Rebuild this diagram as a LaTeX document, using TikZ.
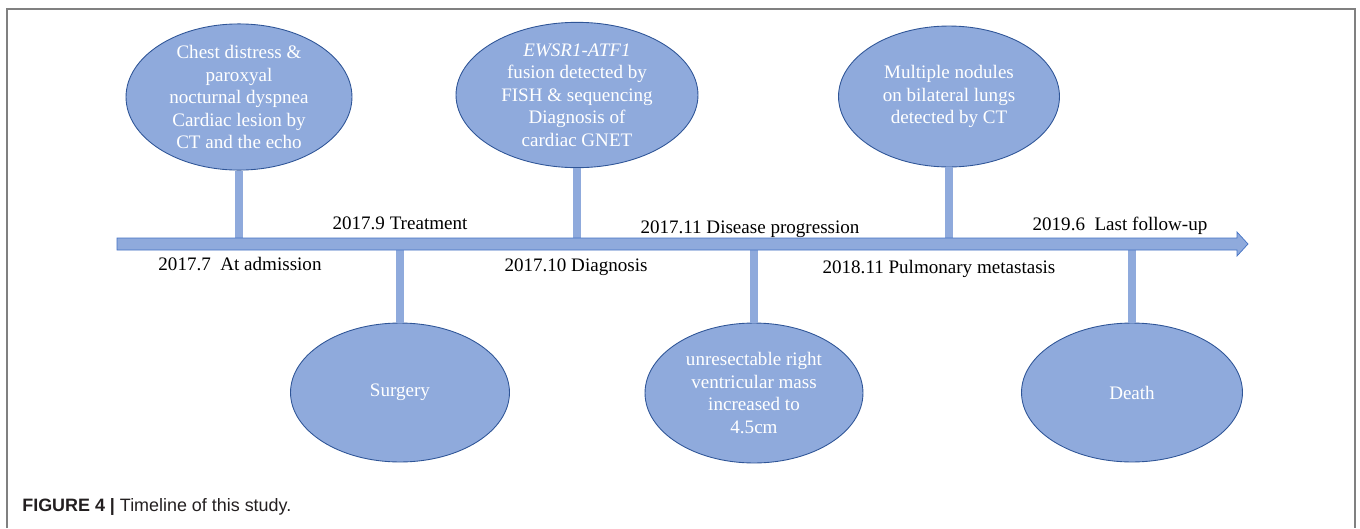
\documentclass[tikz,border=0pt]{standalone}
\usepackage{fontspec}
\setmainfont{Liberation Serif}
\newfontfamily\capfont{Liberation Sans}
\usetikzlibrary{shapes.geometric}
\definecolor{evfill}{HTML}{8FAADC}
\definecolor{evline}{HTML}{2F5597}
\definecolor{axline}{HTML}{4472C4}
\definecolor{framegray}{HTML}{808080}
\definecolor{captext}{HTML}{231F20}

\begin{document}
\begin{tikzpicture}[x=0.02cm,y=-0.02cm,
    event/.style={ellipse,fill=evfill,draw=evline,line width=0.5pt,
        inner sep=0pt,text=white,align=center,
        font=\fontsize{10.85}{12.8}\selectfont},
    date/.style={anchor=base,inner sep=0pt,
        font=\fontsize{10.85}{12.8}\selectfont},
    stem/.style={evfill,line width=4pt}]
    \useasboundingbox (0,0) rectangle (1360,528);
    % frame round the figure
    \draw[framegray,line width=0.8pt] (7,528)--(7,9)--(1355,9)--(1355,528);
    % events above and below the time axis
    \node[event,minimum width=4.52cm,minimum height=2.78cm] (e1) at (239,97)
        {Chest distress \&\\paroxyal\\nocturnal dyspnea\\Cardiac lesion by\\CT and the echo};
    \node[event,minimum width=4.38cm,minimum height=2.78cm] (e2) at (400,392.5)
        {Surgery};
    \node[event,minimum width=4.84cm,minimum height=2.8cm] (e3) at (577,95)
        {\textit{EWSR1-ATF1}\\fusion detected by\\FISH \& sequencing\\Diagnosis of\\cardiac GNET};
    \node[event,minimum width=4.36cm,minimum height=2.8cm] (e4) at (754,393)
        {unresectable right\\ventricular mass\\increased to\\4.5cm};
    \node[event,minimum width=4.42cm,minimum height=2.82cm] (e5) at (949,96.5)
        {Multiple nodules\\on bilateral lungs\\detected by CT};
    \node[event,minimum width=4.42cm,minimum height=2.78cm] (e6) at (1132,392.5)
        {Death};
    % time axis
    \coordinate (axL) at (117,244);
    \coordinate (axR) at (1248,244);
    \foreach \e/\a in {e1/south,e2/north,e3/south,e4/north,e5/south,e6/north}
        {\draw[stem] (\e.\a) -- (\e.\a |- axL);}
    \draw[axline,fill=evfill,line width=0.4pt]
        (117,238) -- (1237,238) -- (1237,232) -- (axR)
        -- (1237,256) -- (1237,250) -- (117,250) -- cycle;
    % dates
    \node[date] (d1) at (240,270) {2017.7\ \ At admission};
    \node[date] (d2) at (400,229) {2017.9 Treatment};
    \node[date] (d3) at (576,271) {2017.10 Diagnosis};
    \node[date] (d4) at (750,233) {2017.11 Disease progression};
    \node[date] (d5) at (939,273) {2018.11 Pulmonary metastasis};
    \node[date] (d6) at (1120,230) {2019.6\ \ Last follow-up};
    % caption
    \node[anchor=base west,inner sep=0pt,text=captext,
        font=\capfont\fontsize{10.2}{12}\selectfont] (cap) at (22,511)
        {\textbf{FIGURE 4 |} Timeline of this study.};
\end{tikzpicture}
\end{document}
